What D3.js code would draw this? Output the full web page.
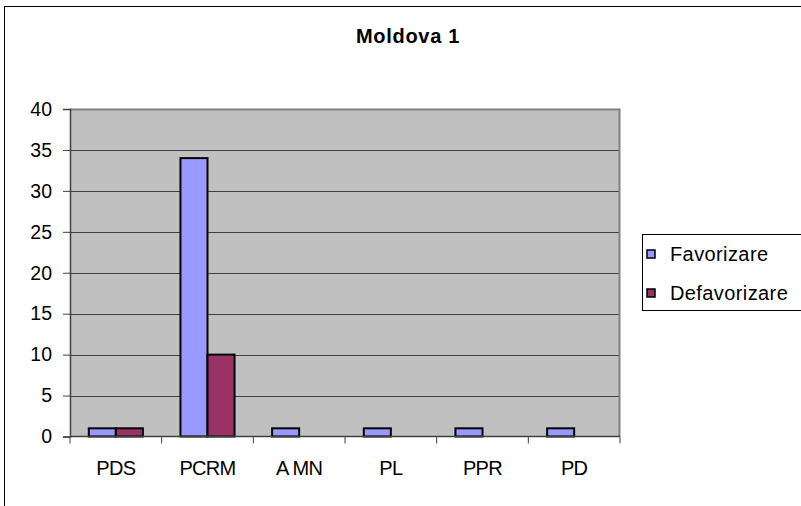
<!DOCTYPE html>
<html>
<head>
<meta charset="utf-8">
<script src="https://cdn.jsdelivr.net/npm/d3@7"></script>
<style>
body { margin: 0; background: #fff; }
text { font-family: Arial, "Liberation Sans", sans-serif; }
</style>
</head>
<body>
<svg></svg>
<script>
var width = 801;
var height = 506;

// data
var categories = ['PDS', 'PCRM', 'AMN', 'PL', 'PPR', 'PD'];
var seriesNames = ['Favorizare', 'Defavorizare'];
var favorizare = [1, 34, 1, 1, 1, 1];
var defavorizare = [1, 10, 0, 0, 0, 0];
var yTicks = [0, 5, 10, 15, 20, 25, 30, 35, 40];
var color = ['#9999ff', '#993366'];

var rows = categories.map(function(c, i) {
  return { cat: c, values: [favorizare[i], defavorizare[i]] };
});

var svg = d3.select('svg')
  .attr('width', width)
  .attr('height', height);

// outer chart frame
svg.append('rect')
  .attr('x', 4.5).attr('y', 6.5)
  .attr('width', 830).attr('height', 530)
  .attr('fill', '#fff')
  .attr('stroke', '#000')
  .attr('stroke-width', 1);

var plot = { left: 70, top: 109, right: 620, bottom: 436.5 };

var x0 = d3.scaleBand()
  .domain(categories)
  .range([plot.left, plot.right]);

var groupW = x0.bandwidth() * 0.59;
var x1 = d3.scaleBand()
  .domain([0, 1])
  .range([0, groupW]);

var y = d3.scaleLinear()
  .domain([0, 40])
  .range([plot.bottom, plot.top]);

// plot background
svg.append('rect')
  .attr('x', plot.left).attr('y', plot.top)
  .attr('width', plot.right - plot.left)
  .attr('height', plot.bottom - plot.top)
  .attr('fill', '#c0c0c0');

// gridlines
svg.append('g')
  .selectAll('line')
  .data(yTicks.filter(function(d) { return d > 0 && d < 40; }))
  .enter().append('line')
  .attr('x1', plot.left).attr('x2', plot.right)
  .attr('y1', function(d) { return Math.round(y(d)) + 0.5; })
  .attr('y2', function(d) { return Math.round(y(d)) + 0.5; })
  .attr('stroke', '#404040')
  .attr('stroke-width', 1);

// plot border (top/right)
svg.append('path')
  .attr('d', 'M' + plot.left + ',' + (plot.top + 0.5) + 'H' + (plot.right - 0.5) + 'V' + plot.bottom)
  .attr('fill', 'none')
  .attr('stroke', '#808080')
  .attr('stroke-width', 2);

// bars
var groups = svg.append('g')
  .selectAll('g')
  .data(rows)
  .enter().append('g')
  .attr('transform', function(d) {
    return 'translate(' + (x0(d.cat) + (x0.bandwidth() - groupW) / 2) + ',0)';
  });

groups.selectAll('rect')
  .data(function(d) { return d.values.map(function(v, i) { return { v: v, i: i }; }); })
  .enter().filter(function(d) { return d.v > 0; })
  .append('rect')
  .attr('x', function(d) { return x1(d.i); })
  .attr('y', function(d) { return y(d.v); })
  .attr('width', x1.bandwidth())
  .attr('height', function(d) { return y(0) - y(d.v); })
  .attr('fill', function(d) { return color[d.i]; })
  .attr('stroke', '#000')
  .attr('stroke-width', 2);

// y axis
var yAxis = svg.append('g')
  .attr('transform', 'translate(' + plot.left + ',0)')
  .call(d3.axisLeft(y).tickValues(yTicks).tickSize(7).tickPadding(11));
yAxis.select('.domain').attr('stroke', '#404040').attr('stroke-width', 1.5);
yAxis.selectAll('.tick line').attr('stroke', '#404040');
yAxis.selectAll('text')
  .attr('font-size', 19.5)
  .attr('fill', '#000')
  .attr('font-family', 'Arial, "Liberation Sans", sans-serif');

// x axis (ticks on category boundaries)
var xAxis = svg.append('g')
  .attr('transform', 'translate(0,' + plot.bottom + ')');
xAxis.append('line')
  .attr('x1', plot.left).attr('x2', plot.right)
  .attr('stroke', '#404040').attr('stroke-width', 1.5);
xAxis.selectAll('line.tk')
  .data(categories.concat(['end']))
  .enter().append('line')
  .attr('class', 'tk')
  .attr('x1', function(d, i) { return i < categories.length ? x0(d) : plot.right; })
  .attr('x2', function(d, i) { return i < categories.length ? x0(d) : plot.right; })
  .attr('y1', 0).attr('y2', 7)
  .attr('stroke', '#404040');
xAxis.selectAll('text')
  .data(categories)
  .enter().append('text')
  .attr('x', function(d) { return x0(d) + x0.bandwidth() / 2; })
  .attr('y', 38.5)
  .attr('text-anchor', 'middle')
  .attr('font-size', 20)
  .attr('letter-spacing', -0.7)
  .text(function(d) { return d === 'AMN' ? 'A MN' : d; });

// title
svg.append('text')
  .attr('x', 408)
  .attr('y', 43)
  .attr('text-anchor', 'middle')
  .attr('font-size', 20)
  .attr('font-weight', 'bold')
  .attr('letter-spacing', 0.7)
  .text('Moldova 1');

// legend
var legend = svg.append('g');
legend.append('rect')
  .attr('x', 642.5).attr('y', 234.5)
  .attr('width', 170).attr('height', 76)
  .attr('fill', '#fff')
  .attr('stroke', '#000')
  .attr('stroke-width', 1);

var items = legend.selectAll('g.item')
  .data(seriesNames)
  .enter().append('g')
  .attr('class', 'item')
  .attr('transform', function(d, i) { return 'translate(0,' + (254 + i * 39) + ')'; });

items.append('rect')
  .attr('x', 647).attr('y', -4)
  .attr('width', 8).attr('height', 8)
  .attr('fill', function(d, i) { return color[i]; })
  .attr('stroke', '#000')
  .attr('stroke-width', 1.5);

items.append('text')
  .attr('x', 670)
  .attr('y', 7)
  .attr('font-size', 20)
  .attr('letter-spacing', 0.4)
  .text(function(d) { return d; });
</script>
</body>
</html>
